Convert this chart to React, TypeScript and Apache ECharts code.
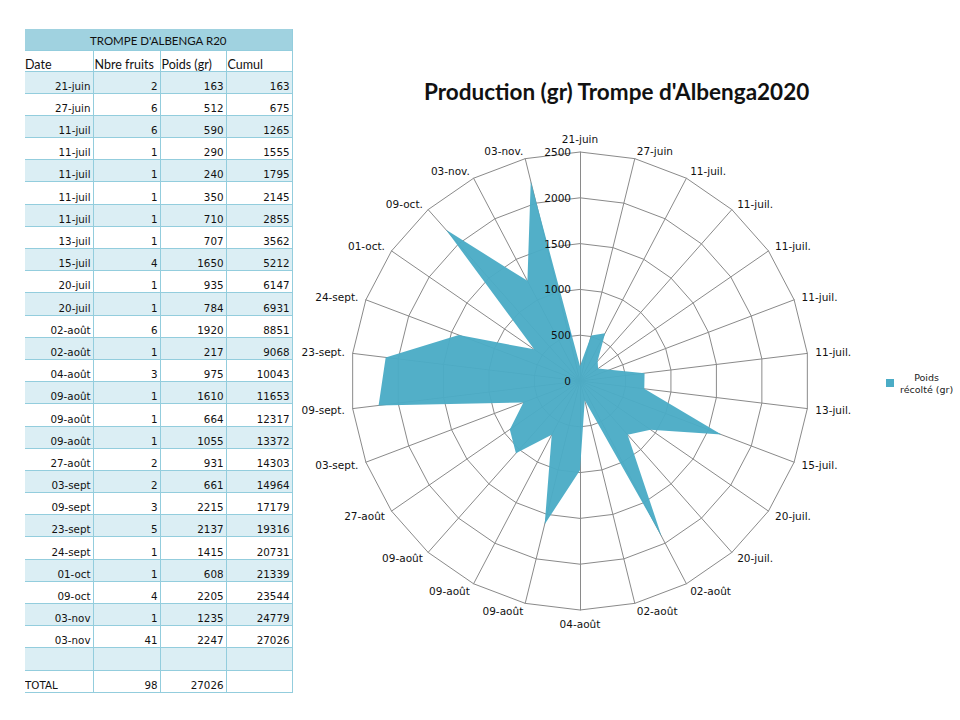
import React, { useEffect, useRef } from "react";
import * as echarts from "echarts";

const tableTitle = "TROMPE D'ALBENGA R20";
const headers = ["Date", "Nbre fruits", "Poids (gr)", "Cumul"];
const dates = ["21-juin", "27-juin", "11-juil", "11-juil", "11-juil", "11-juil", "11-juil", "13-juil", "15-juil", "20-juil", "20-juil", "02-août", "02-août", "04-août", "09-août", "09-août", "09-août", "27-août", "03-sept", "09-sept", "23-sept", "24-sept", "01-oct", "09-oct", "03-nov", "03-nov"];
const fruits = [2, 6, 6, 1, 1, 1, 1, 1, 4, 1, 1, 6, 1, 3, 1, 1, 1, 2, 2, 3, 5, 1, 1, 4, 1, 41];
const weights = [163, 512, 590, 290, 240, 350, 710, 707, 1650, 935, 784, 1920, 217, 975, 1610, 664, 1055, 931, 661, 2215, 2137, 1415, 608, 2205, 1235, 2247];
const cumul = [163, 675, 1265, 1555, 1795, 2145, 2855, 3562, 5212, 6147, 6931, 8851, 9068, 10043, 11653, 12317, 13372, 14303, 14964, 17179, 19316, 20731, 21339, 23544, 24779, 27026];
const totalLabel = "TOTAL";
const totalFruits = 98;
const totalWeight = 27026;

const radarLabels = ["21-juin", "27-juin", "11-juil.", "11-juil.", "11-juil.", "11-juil.", "11-juil.", "13-juil.", "15-juil.", "20-juil.", "20-juil.", "02-août", "02-août", "04-août", "09-août", "09-août", "09-août", "27-août", "03-sept.", "09-sept.", "23-sept.", "24-sept.", "01-oct.", "09-oct.", "03-nov.", "03-nov."];
const chartTitle = "Production (gr) Trompe d'Albenga2020";
const seriesName = "Poids\nrécolté (gr)";
const radarMax = 2500;

const FILL = "#4BACC6";
const ROW_BLUE = "#DBEEF4";
const TITLE_BLUE = "#A0D2E0";
const BORDER = "#93CDDD";

// ECharts lays radar axes counter-clockwise; reorder so they run clockwise
function clockwise<T>(arr: T[]): T[] {
  return [arr[0], ...arr.slice(1).reverse()];
}

const HEAD_FONT = "Lato, 'Open Sans', sans-serif";
const NUM_FONT = "'DejaVu Sans', Verdana, sans-serif";

const cellBase: React.CSSProperties = {
  borderRight: `1px solid ${BORDER}`,
  borderBottom: `1px solid ${BORDER}`,
  padding: "0 2px 0 2px",
  verticalAlign: "bottom",
  whiteSpace: "nowrap",
  overflow: "hidden",
  lineHeight: "13px",
};

const numCell: React.CSSProperties = {
  ...cellBase,
  textAlign: "right",
  fontFamily: NUM_FONT,
  fontSize: 10.3,
};

function DataTable() {
  const rowH = 22.2;
  const colW = [68, 67, 66, 66];
  return (
    <table
      style={{
        position: "absolute",
        left: 25,
        top: 29,
        borderCollapse: "collapse",
        tableLayout: "fixed",
        width: colW.reduce((a, b) => a + b, 0),
        fontFamily: HEAD_FONT,
        fontSize: 12.5,
        color: "#111",
      }}
    >
      <colgroup>
        {colW.map((w, i) => (
          <col key={i} style={{ width: w }} />
        ))}
      </colgroup>
      <tbody>
        <tr style={{ height: 21, background: TITLE_BLUE }}>
          <td colSpan={4} style={{ ...cellBase, textAlign: "center", verticalAlign: "middle", fontSize: 11.5, paddingTop: 3 }}>
            {tableTitle}
          </td>
        </tr>
        <tr style={{ height: 21, background: "#fff" }}>
          {headers.map((h, i) => (
            <td key={i} style={{ ...cellBase, textAlign: "left", paddingLeft: i === 0 ? 0 : 1 }}>
              {h}
            </td>
          ))}
        </tr>
        {dates.map((d, i) => (
          <tr key={i} style={{ height: rowH, background: i % 2 === 0 ? ROW_BLUE : "#fff" }}>
            <td style={numCell}>{d}</td>
            <td style={numCell}>{fruits[i]}</td>
            <td style={numCell}>{weights[i]}</td>
            <td style={numCell}>{cumul[i]}</td>
          </tr>
        ))}
        <tr style={{ height: rowH, background: ROW_BLUE }}>
          <td style={cellBase}></td>
          <td style={cellBase}></td>
          <td style={cellBase}></td>
          <td style={cellBase}></td>
        </tr>
        <tr style={{ height: rowH, background: "#fff" }}>
          <td style={{ ...numCell, textAlign: "left", paddingLeft: 0 }}>{totalLabel}</td>
          <td style={numCell}>{totalFruits}</td>
          <td style={numCell}>{totalWeight}</td>
          <td style={cellBase}></td>
        </tr>
      </tbody>
    </table>
  );
}

export default function App() {
  const ref = useRef<HTMLDivElement>(null);

  useEffect(() => {
    if (!ref.current) return;
    const chart = echarts.init(ref.current, undefined, { renderer: "svg" });
    const labels = clockwise(radarLabels);
    const vals = clockwise(weights);
    const gridIndicator = labels.map((name) => ({ name, max: radarMax, min: 0 }));
    const labelIndicator = labels.map((name, i) =>
      i === 0
        ? { name, max: radarMax, min: 0, axisLabel: { show: true } }
        : { name, max: radarMax, min: 0 }
    );
    const common = {
      center: [580, 381],
      radius: 229,
      startAngle: 90,
      shape: "polygon",
      splitNumber: 5,
    };
    chart.setOption({
      animation: false,
      backgroundColor: "transparent",
      title: {
        text: chartTitle,
        left: 419,
        top: 75,
        textStyle: {
          fontFamily: HEAD_FONT,
          fontWeight: "bold",
          fontSize: 22.5,
          color: "#111",
        },
      },
      legend: {
        left: 881,
        top: 367,
        itemWidth: 8,
        itemHeight: 8,
        itemGap: 4,
        icon: "rect",
        data: [seriesName],
        formatter: () => "{a|Poids}\n{a|récolté (gr)}",
        textStyle: {
          fontFamily: NUM_FONT,
          fontSize: 9.5,
          color: "#222",
          padding: [0, 0, 0, 1],
          rich: {
            a: { align: "center", fontFamily: NUM_FONT, fontSize: 9.5, lineHeight: 12, color: "#222" },
          },
        },
      },
      radar: [
        {
          ...common,
          z: 1,
          indicator: gridIndicator,
          nameGap: 8,
          axisName: {
            color: "#111",
            fontFamily: NUM_FONT,
            fontSize: 10.5,
          },
          axisLine: { lineStyle: { color: "#8a8a8a", width: 1 } },
          splitLine: { lineStyle: { color: "#8a8a8a", width: 1 } },
          splitArea: { show: false },
          axisTick: { show: false },
          axisLabel: { show: false },
        },
        {
          ...common,
          z: 5,
          indicator: labelIndicator,
          axisName: { show: false },
          axisLine: { show: false },
          splitLine: { show: false },
          splitArea: { show: false },
          axisTick: { show: false },
          axisLabel: {
            show: false,
            color: "#111",
            fontFamily: NUM_FONT,
            fontSize: 10.5,
            margin: 9,
            formatter: (v: number) => String(v),
          },
        },
      ],
      series: [
        {
          type: "radar",
          radarIndex: 0,
          z: 2,
          name: seriesName,
          symbol: "none",
          lineStyle: { width: 0, color: FILL },
          itemStyle: { color: FILL },
          areaStyle: { color: FILL, opacity: 0.96 },
          data: [{ value: vals, name: seriesName }],
        },
      ],
    });
    return () => chart.dispose();
  }, []);

  return (
    <div style={{ position: "fixed", left: 0, top: 0, width: 960, height: 720, background: "#fff" }}>
      <DataTable />
      <div ref={ref} style={{ position: "absolute", left: 0, top: 0, width: 960, height: 720 }} />
    </div>
  );
}
